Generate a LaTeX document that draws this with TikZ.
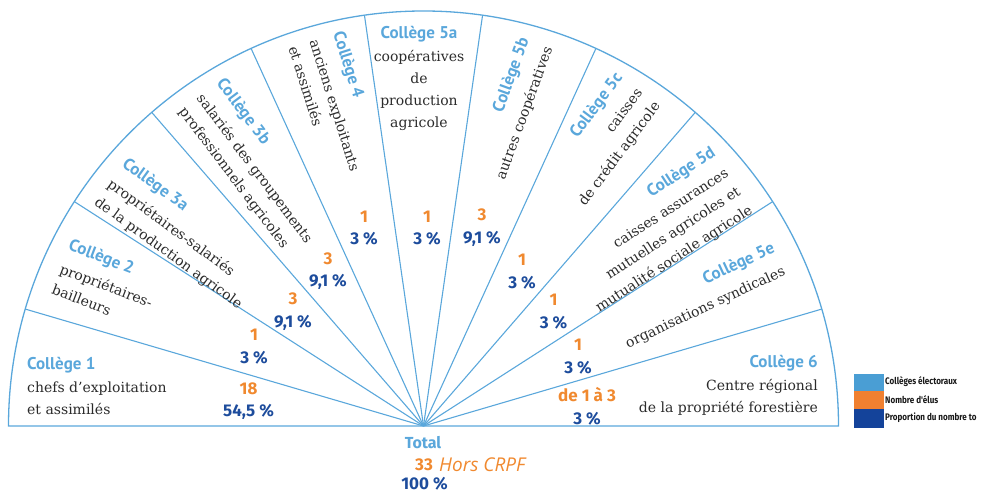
\documentclass[tikz,border=0pt]{standalone}
\usepackage{fontspec}
\setmainfont{DejaVu Serif}
\newfontfamily\colfam{PT Sans}
\newfontfamily\numfam{Fira Sans}
\newfontfamily\horsfam{Open Sans}
\newfontfamily\legfam[FakeStretch=0.85]{Fira Sans}
\definecolor{lblue}{HTML}{5AA7DB}
\definecolor{orng}{HTML}{F0892F}
\definecolor{dblue}{HTML}{1D4C9C}
\definecolor{txt}{HTML}{2B2B2B}
\definecolor{legblue}{HTML}{4A9ED4}
\definecolor{legorng}{HTML}{F08030}
\definecolor{legdblue}{HTML}{14439A}
\newcommand{\colfont}{\colfam\bfseries\color{lblue}\fontsize{17}{22}\selectfont}
\newcommand{\orn}[1]{{\color{orng}#1}}
\newcommand{\dbl}[1]{{\color{dblue}#1}}
\begin{document}
\begin{tikzpicture}[x=1pt,y=1pt,
  rim/.style={draw=lblue, line width=1.3pt},
  ray/.style={draw=lblue, line width=1.1pt},
  lbl/.style={inner sep=0pt, text=txt, font=\fontsize{14}{22}\selectfont},
  num/.style={inner sep=0pt, align=center, font=\numfam\bfseries\fontsize{17}{22.5}\selectfont},
  legtxt/.style={inner sep=0pt, anchor=west, font=\legfam\bfseries\fontsize{9.5}{12}\selectfont, text=black!90}
]
\useasboundingbox (0,0) rectangle (987,493);
\coordinate (C) at (423.5,67);
% semicircle and rays
\draw[rim] (C) ++(0:415) arc (0:180:415) -- cycle;
\foreach \k in {1,...,10} \draw[ray] (C) -- ++({\k*180/11}:415);
% sector texts
\node[lbl, anchor=north west, align=left] (t1) at (27,136)
  {{\colfont Collège 1}\\[1pt]chefs d'exploitation\\et assimilés};
\node[lbl, anchor=north west, align=left, rotate=-21] (t2) at (72,255)
  {{\colfont Collège 2}\\[3pt]propriétaires-\\bailleurs};
\node[lbl, anchor=north west, align=left, rotate=-36] (t3a) at (128.5,337)
  {{\colfont Collège 3a}\\[3pt]propriétaires-salariés\\de la production agricole};
\node[lbl, anchor=north west, align=left, rotate=-53] (t3b) at (226,417)
  {{\colfont Collège 3b}\\[3pt]salariés des groupements\\professionnels agricoles};
\node[lbl, anchor=north west, align=left, rotate=-72.5] (t4) at (345,463)
  {{\colfont Collège 4}\\[3pt]anciens exploitants\\et assimilés};
\node[lbl, anchor=north, align=center] (t5a) at (419,467)
  {{\colfont Collège 5a}\\[1pt]coopératives\\de\\production\\agricole};
\node[lbl, anchor=north east, align=right, rotate=70] (t5b) at (517.4,457.1)
  {{\colfont Collège 5b}\\[3pt]autres coopératives};
\node[lbl, anchor=north east, align=right, rotate=53] (t5c) at (613.2,422.6)
  {{\colfont Collège 5c}\\[3pt]caisses\\de crédit agricole};
\node[lbl, anchor=north east, align=right, rotate=33] (t5d) at (709.7,348)
  {{\colfont Collège 5d}\\[2pt]caisses assurances\\mutuelles agricoles et\\mutualité sociale agricole};
\node[lbl, anchor=north east, align=right, rotate=25] (t5e) at (770.5,252.4)
  {{\colfont Collège 5e}\\[3pt]organisations syndicales};
\node[lbl, anchor=north east, align=right] (t6) at (818,138)
  {{\colfont Collège 6}\\[1pt]Centre régional\\de la propriété forestière};
% numbers
\node[num] (n1) at (248.5,92) {\orn{18}\\\dbl{54,5 \%}};
\node[num] (n2) at (254,146.5) {\orn{1}\\\dbl{3 \%}};
\node[num] (n3a) at (293,181.5) {\orn{3}\\\dbl{9,1 \%}};
\node[num] (n3b) at (328,222) {\orn{3}\\\dbl{9,1 \%}};
\node[num] (n4) at (364,265) {\orn{1}\\\dbl{3 \%}};
\node[num] (n5a) at (427,265) {\orn{1}\\\dbl{3 \%}};
\node[num] (n5b) at (482,265.5) {\orn{3}\\\dbl{9,1 \%}};
\node[num] (n5c) at (522,221.5) {\orn{1}\\\dbl{3 \%}};
\node[num] (n5d) at (553.5,181.5) {\orn{1}\\\dbl{3 \%}};
\node[num] (n5e) at (578,136.5) {\orn{1}\\\dbl{3 \%}};
\node[num] (n6) at (587,87) {\orn{de 1 à 3}\\\dbl{3 \%}};
% total
\node[inner sep=0pt, font=\numfam\bfseries\fontsize{16}{20}\selectfont, text=lblue] (tot) at (423,50) {Total};
\node[inner sep=0pt, font=\numfam\bfseries\fontsize{17}{20}\selectfont, text=orng] (tot33) at (424,28) {33};
\node[inner sep=0pt, anchor=west, font=\horsfam\itshape\fontsize{19}{22}\selectfont, text=orng] (hors) at (439,28) {Hors CRPF};
\node[inner sep=0pt, font=\numfam\bfseries\fontsize{17}{20}\selectfont, text=dblue] (tot100) at (424.5,9) {100 \%};
% legend
\fill[legblue] (854,102) rectangle (884,119);
\fill[legorng] (854,84) rectangle (884,102);
\fill[legdblue] (854,65) rectangle (884,84);
\node[legtxt] (l1) at (885,111) {Collèges électoraux};
\node[legtxt] (l2) at (885,93) {Nombre d'élus};
\node[legtxt] (l3) at (885,75) {Proportion du nombre to};
\end{tikzpicture}
\end{document}
